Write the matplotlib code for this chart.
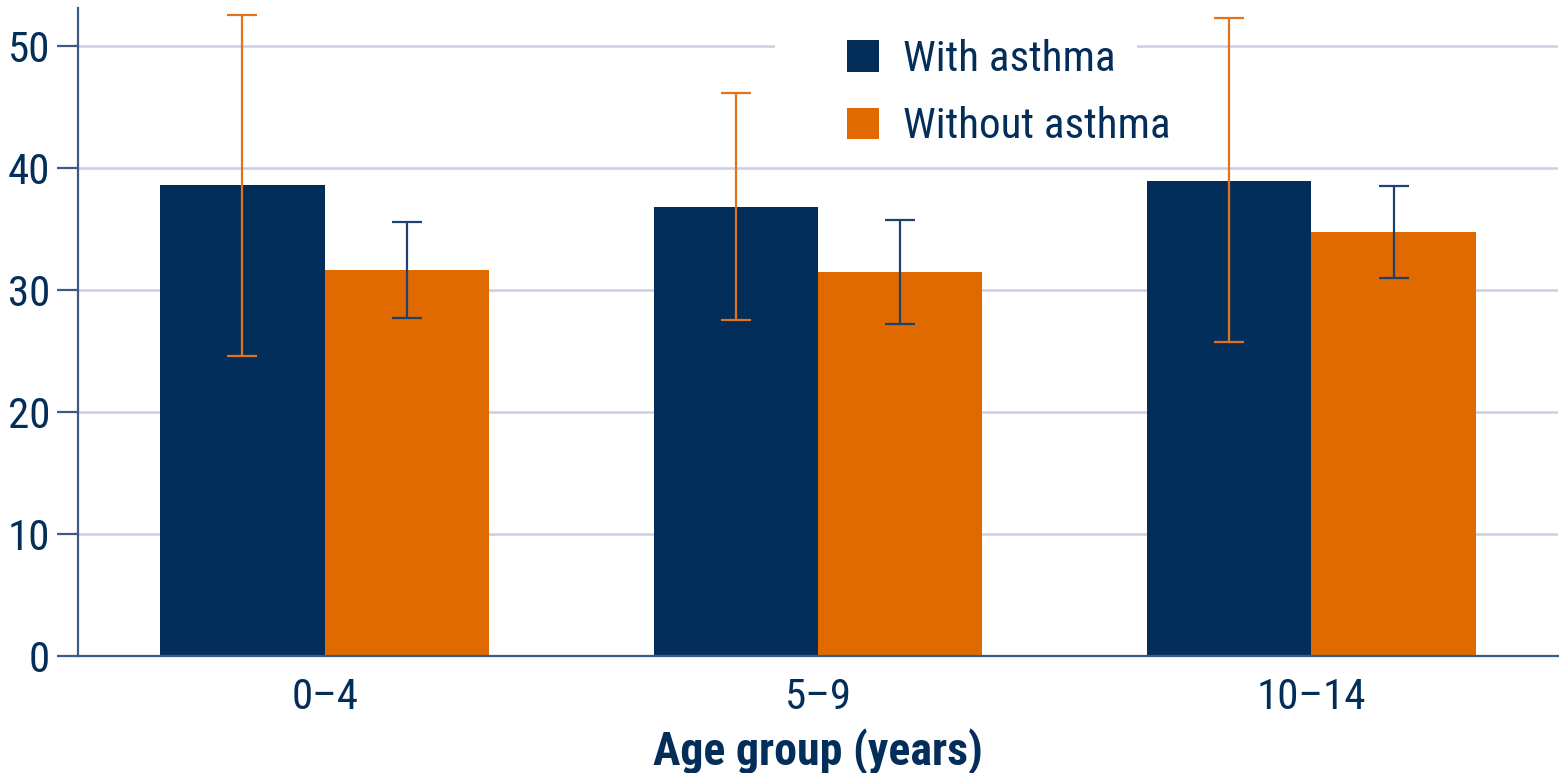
import numpy as np
import matplotlib
matplotlib.use("Agg")
import matplotlib.pyplot as plt
from matplotlib import font_manager as fm
from matplotlib.patches import Rectangle

# pick a condensed face if one is around
names = {f.name for f in fm.fontManager.ttflist}
FONT = "DejaVu Sans"
for cand in ["Liberation Sans Narrow", "Roboto Condensed", "Open Sans Condensed", "Noto Sans"]:
    if cand in names:
        FONT = cand
        break
print("font:", FONT)
plt.rcParams["font.family"] = [FONT, "DejaVu Sans"]

GROUPS = ["0\u20134", "5\u20139", "10\u201314"]
WITH = [38.6, 36.8, 38.9]
WITH_LO = [24.6, 27.5, 25.7]
WITH_HI = [52.5, 46.1, 52.3]
WITHOUT = [31.6, 31.5, 34.75]
WITHOUT_LO = [27.7, 27.2, 31.0]
WITHOUT_HI = [35.6, 35.7, 38.5]
YTICKS = [0, 10, 20, 30, 40, 50]

NAVY = "#032e5a"
ORANGE = "#e06a00"
GRID = "#cbcfe3"
SPINE = "#3b5a85"

fig = plt.figure(figsize=(15.59, 7.73), dpi=100)
ax = fig.add_axes([78/1559, 1-656/773, 1480/1559, 648/773])

x = np.arange(len(GROUPS))
w = 1/3
w_arr, wo_arr = np.array(WITH), np.array(WITHOUT)
ax.bar(x - w/2, w_arr, w, color=NAVY, zorder=2, label="With asthma")
ax.bar(x + w/2, wo_arr, w, color=ORANGE, zorder=2, label="Without asthma")
ax.errorbar(x - w/2, w_arr, yerr=[w_arr - np.array(WITH_LO), np.array(WITH_HI) - w_arr],
            fmt="none", ecolor="#e0741e", elinewidth=1.6, capsize=10.5, capthick=1.6, zorder=3)
ax.errorbar(x + w/2, wo_arr, yerr=[wo_arr - np.array(WITHOUT_LO), np.array(WITHOUT_HI) - wo_arr],
            fmt="none", ecolor="#1f4170", elinewidth=1.6, capsize=10.5, capthick=1.6, zorder=3)

ax.set_xlim(-0.5, 2.5)
ax.set_ylim(0, 53.1)
ax.set_yticks(YTICKS)
ax.set_xticks(x)
ax.set_xticklabels(GROUPS)
ax.yaxis.grid(True, color=GRID, lw=1.8, zorder=0)
ax.set_axisbelow(True)
for s in ["top", "right"]:
    ax.spines[s].set_visible(False)
for s in ["left", "bottom"]:
    ax.spines[s].set_color(SPINE)
    ax.spines[s].set_linewidth(1.6)
ax.tick_params(axis="y", length=15, width=1.6, color=SPINE, pad=5, labelsize=31, labelcolor=NAVY)
ax.tick_params(axis="x", length=0, pad=15, labelsize=31, labelcolor=NAVY)
ax.set_xlabel("Age group (years)", fontsize=33, fontweight="bold", color=NAVY, labelpad=7)

# white patch behind legend (breaks the top gridline)
ax.add_patch(Rectangle((697/1480, 500/648), 362/1480, 148/648, transform=ax.transAxes,
                       facecolor="white", edgecolor="none", zorder=1))
leg = ax.legend(loc="upper left", bbox_to_anchor=(730/1480, 1.0 + 8/648), frameon=False,
                fontsize=31, handlelength=0.75, handleheight=0.75, handletextpad=0.55,
                labelspacing=0.62, borderpad=0.4)
for t in leg.get_texts():
    t.set_color(NAVY)

fig.savefig("out.png", dpi=100)
